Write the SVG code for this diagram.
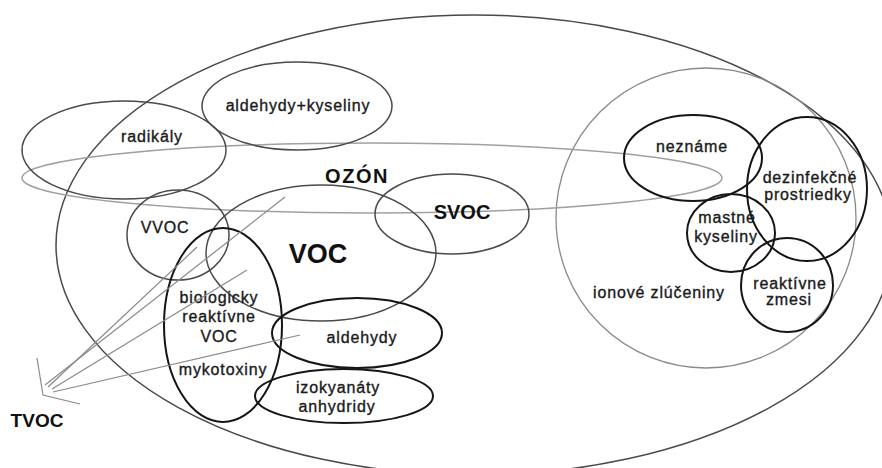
<svg xmlns="http://www.w3.org/2000/svg" width="882" height="468" viewBox="0 0 882 468">
<style>
  .thin { fill: none; stroke: #4a4a4a; stroke-width: 1.5; }
  .grey { fill: none; stroke: #8a8a8a; stroke-width: 1.3; }
  .light { fill: none; stroke: #a0a0a0; stroke-width: 1.5; }
  .bold { fill: none; stroke: #151515; stroke-width: 2; }
  .lbl { font-family: "Liberation Sans", Arial, sans-serif; font-size: 16px; letter-spacing: 0.85px; fill: #1a1a1a; stroke: #1a1a1a; stroke-width: 0.35; text-anchor: middle; }
  .big { font-family: "Liberation Sans", Arial, sans-serif; font-weight: bold; fill: #111; text-anchor: middle; }
  .conn { fill: none; stroke: #8a8a8a; stroke-width: 1.2; }
</style>
<rect width="882" height="468" fill="#ffffff"/>

<g id="outer">
  <ellipse class="thin" cx="474" cy="245" rx="418" ry="230"/>
</g>
<g id="ionove">
  <circle class="grey" cx="706" cy="218" r="150"/>
  <text class="lbl" x="659" y="298">ionové zlúčeniny</text>
</g>
<g id="ozon">
  <ellipse class="light" cx="372" cy="178" rx="350" ry="35"/>
  <text class="big" x="357" y="183" font-size="20" letter-spacing="1.5">OZÓN</text>
</g>
<g id="radikaly">
  <ellipse class="thin" cx="124" cy="150" rx="102" ry="49"/>
  <text class="lbl" x="152" y="142">radikály</text>
</g>
<g id="aldehydy-kyseliny">
  <ellipse class="thin" cx="297" cy="106" rx="95" ry="44"/>
  <text class="lbl" x="298" y="111">aldehydy+kyseliny</text>
</g>
<g id="vvoc">
  <ellipse class="thin" cx="178" cy="235" rx="51" ry="45"/>
  <text class="lbl" x="165" y="233">VVOC</text>
</g>
<g id="voc">
  <ellipse class="thin" cx="321" cy="253" rx="115" ry="68"/>
  <text class="big" x="318" y="263" font-size="27">VOC</text>
</g>
<g id="svoc">
  <ellipse class="thin" cx="452" cy="214" rx="77" ry="40"/>
  <text class="big" x="462" y="219" font-size="20">SVOC</text>
</g>
<g id="biologicky">
  <ellipse class="bold" cx="223" cy="325" rx="59" ry="97"/>
  <text class="lbl" x="219" y="303">biologicky</text>
  <text class="lbl" x="219" y="322">reaktívne</text>
  <text class="lbl" x="219" y="342">VOC</text>
  <text class="lbl" x="223" y="375">mykotoxiny</text>
</g>
<g id="aldehydy">
  <ellipse class="bold" cx="357" cy="333" rx="85" ry="35"/>
  <text class="lbl" x="362" y="343">aldehydy</text>
</g>
<g id="izokyanaty">
  <ellipse class="bold" cx="344" cy="396" rx="89" ry="27"/>
  <text class="lbl" x="338" y="393">izokyanáty</text>
  <text class="lbl" x="337" y="412">anhydridy</text>
</g>
<g id="nezname">
  <ellipse class="bold" cx="693" cy="158" rx="69" ry="43"/>
  <text class="lbl" x="692" y="152">neznáme</text>
</g>
<g id="dezinfekcne">
  <ellipse class="bold" cx="807" cy="189" rx="60" ry="72"/>
  <text class="lbl" x="810" y="183">dezinfekčné</text>
  <text class="lbl" x="808" y="200">prostriedky</text>
</g>
<g id="mastne">
  <ellipse class="bold" cx="731" cy="233" rx="44" ry="39"/>
  <text class="lbl" x="727" y="223">mastné</text>
  <text class="lbl" x="726" y="242">kyseliny</text>
</g>
<g id="reaktivne-zmesi">
  <ellipse class="bold" cx="787" cy="285" rx="46" ry="47"/>
  <text class="lbl" x="790" y="289">reaktívne</text>
  <text class="lbl" x="789" y="305">zmesi</text>
</g>

<g id="connectors">
  <polyline class="conn" points="37,358 43,395 80,404"/>
  <line class="conn" x1="45" y1="385" x2="285" y2="197"/>
  <line class="conn" x1="48" y1="387" x2="197" y2="247"/>
  <line class="conn" x1="52" y1="389" x2="247" y2="270"/>
  <line class="conn" x1="53" y1="392" x2="300" y2="335"/>
</g>
<g id="tvoc">
  <text class="big" x="37" y="427" font-size="19">TVOC</text>
</g>
</svg>
